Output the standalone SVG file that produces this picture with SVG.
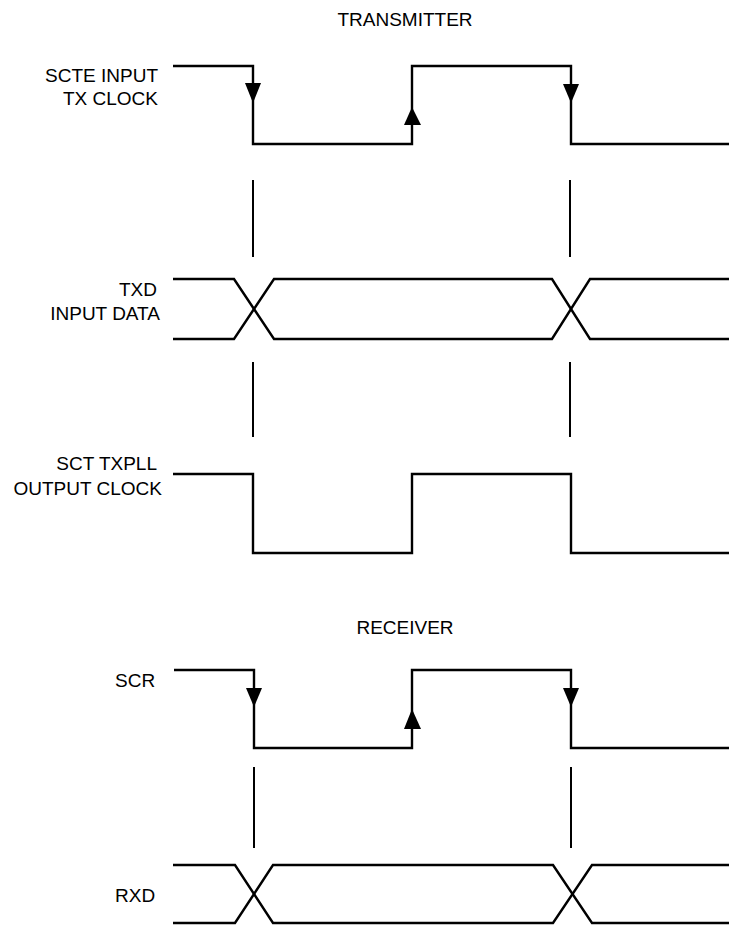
<svg xmlns="http://www.w3.org/2000/svg" width="729" height="925" viewBox="0 0 729 925">
<style>
.w{fill:none;stroke:#000;stroke-width:2.4;stroke-linejoin:miter}
.d{fill:none;stroke:#000;stroke-width:2}
.t{font-family:"Liberation Sans",Arial,sans-serif;font-size:19px;fill:#000}
.r{text-anchor:end}
.c{text-anchor:middle}
.a{fill:#000}
</style>
<rect width="729" height="925" fill="#fff"/>
<g id="title-tx"><text class="t c" x="405" y="26">TRANSMITTER</text></g>
<g id="scte">
<text class="t r" x="158" y="82">SCTE INPUT</text>
<text class="t r" x="158" y="105">TX CLOCK</text>
<path class="w" d="M173,66 H253 V144 H412 V66 H571 V144 H729"/>
<polygon class="a" points="245,83 261,83 253,103"/>
<polygon class="a" points="404,125 421,125 412,107"/>
<polygon class="a" points="563,84 579,84 571,103"/>
</g>
<g id="txd">
<text class="t r" x="157" y="296">TXD</text>
<text class="t r" x="160" y="320">INPUT DATA</text>
<path class="w" d="M173,279 H234 L274,339 H552 L590,279 H729"/>
<path class="w" d="M173,339 H234 L274,279 H552 L590,339 H729"/>
</g>
<g id="sct">
<text class="t r" x="157" y="470">SCT TXPLL</text>
<text class="t r" x="162" y="495">OUTPUT CLOCK</text>
<path class="w" d="M173,474 H253 V553 H412 V474 H571 V553 H729"/>
</g>
<g id="title-rx"><text class="t c" x="405" y="634">RECEIVER</text></g>
<g id="scr">
<text class="t" x="115" y="687">SCR</text>
<path class="w" d="M174,670 H254 V748 H412 V670 H571 V748 H729"/>
<polygon class="a" points="246,688 262,688 254,707"/>
<polygon class="a" points="404,729 421,729 412,709"/>
<polygon class="a" points="563,688 579,688 571,707"/>
</g>
<g id="rxd">
<text class="t" x="115" y="902">RXD</text>
<path class="w" d="M173,865 H235 L273,923 H553 L592,865 H729"/>
<path class="w" d="M173,923 H235 L273,865 H553 L592,923 H729"/>
</g>
<g id="connectors">
<path class="d" d="M253,180 V257 M570,180 V257 M253,362 V437 M570,362 V437 M254,767 V848 M571,767 V848"/>
</g>
</svg>
